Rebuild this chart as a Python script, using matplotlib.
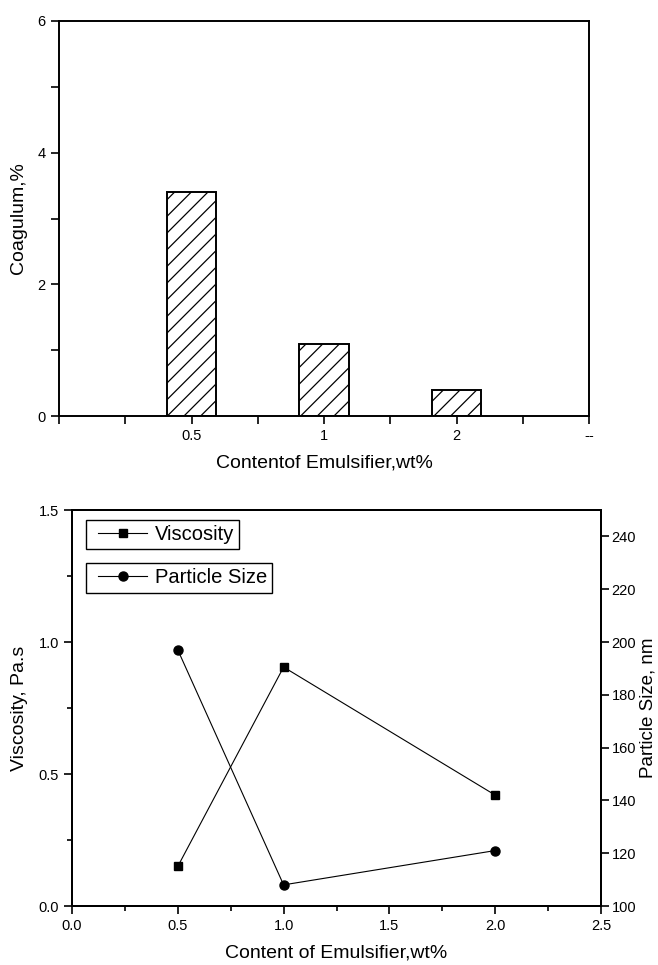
import matplotlib
matplotlib.use('Agg')
import matplotlib.pyplot as plt
from matplotlib.legend_handler import HandlerLine2D
from matplotlib.ticker import MultipleLocator, FixedLocator, FormatStrFormatter

plt.rcParams['font.family'] = ['Liberation Sans', 'DejaVu Sans']
plt.rcParams['hatch.linewidth'] = 0.9

# data
categories = ['0.5', '1', '2']
coagulum = [3.4, 1.1, 0.4]

content = [0.5, 1.0, 2.0]
viscosity = [0.15, 0.905, 0.42]
particle_size = [197, 108, 121]

fig = plt.figure(figsize=(6.58, 9.65), dpi=100)

# top: coagulum bars
ax1 = fig.add_axes([59/658, 1-416/965, 530/658, 395/965])
pos = [1, 2, 3]
ax1.bar(pos, coagulum, width=0.37, color='white', edgecolor='black',
        linewidth=1.4, hatch='//')
ax1.set_xlim(0, 4)
ax1.set_ylim(0, 6)
ax1.xaxis.set_major_locator(FixedLocator([1, 2, 3, 4]))
ax1.set_xticklabels(categories + ['--'])
ax1.xaxis.set_minor_locator(FixedLocator([0, 0.5, 1.5, 2.5, 3.5]))
ax1.yaxis.set_major_locator(MultipleLocator(2))
ax1.yaxis.set_minor_locator(MultipleLocator(1))
ax1.tick_params(which='both', direction='out', labelsize=10.5, width=1.2,
                length=5.5, pad=4)
ax1.set_ylabel('Coagulum,%', fontsize=14)
ax1.set_xlabel('Contentof Emulsifier,wt%', fontsize=14)
ax1.yaxis.set_label_coords(-0.060, 0.5)
ax1.xaxis.set_label_coords(0.5, -0.098)
for s in ax1.spines.values():
    s.set_linewidth(1.4)

# bottom: viscosity & particle size
ax2 = fig.add_axes([72/658, 1-906/965, 529/658, 396/965])
l1, = ax2.plot(content, viscosity, color='black', lw=0.8, marker='s',
               markersize=6, label='Viscosity')
ax2.set_xlim(0, 2.5)
ax2.set_ylim(0, 1.5)
ax2.xaxis.set_major_locator(MultipleLocator(0.5))
ax2.xaxis.set_minor_locator(MultipleLocator(0.25))
ax2.yaxis.set_major_locator(MultipleLocator(0.5))
ax2.yaxis.set_minor_locator(MultipleLocator(0.25))
ax2.xaxis.set_major_formatter(FormatStrFormatter('%.1f'))
ax2.yaxis.set_major_formatter(FormatStrFormatter('%.1f'))
ax2.tick_params(which='both', direction='out', labelsize=10.5, width=1.2, pad=4)
ax2.tick_params(which='major', length=5.5)
ax2.tick_params(which='minor', length=3.5)
ax2.set_ylabel('Viscosity, Pa.s', fontsize=14)
ax2.set_xlabel('Content of Emulsifier,wt%', fontsize=14)
ax2.yaxis.set_label_coords(-0.083, 0.5)
ax2.xaxis.set_label_coords(0.5, -0.098)

ax3 = ax2.twinx()
l2, = ax3.plot(content, particle_size, color='black', lw=0.8, marker='o',
               markersize=6.5, label='Particle Size')
ax3.set_ylim(100, 250)
ax3.yaxis.set_major_locator(MultipleLocator(20))
ax3.tick_params(direction='out', labelsize=10.5, width=1.2, length=5.5, pad=2)
ax3.set_ylabel('Particle Size, nm', fontsize=13.5)
ax3.yaxis.set_label_coords(1.073, 0.5)
for a in (ax2, ax3):
    for s in a.spines.values():
        s.set_linewidth(1.4)

hmap = {l1: HandlerLine2D(xpad=0.35), l2: HandlerLine2D(xpad=0.35)}
leg1 = ax2.legend(handles=[l1], loc='upper left', bbox_to_anchor=(0.027, 0.975),
                  fancybox=False, edgecolor='black', fontsize=14.5,
                  handlelength=2.75, handletextpad=0.4, borderpad=0.25,
                  borderaxespad=0, framealpha=1, handler_map=hmap)
leg1.get_frame().set_linewidth(1)
ax2.add_artist(leg1)
leg2 = ax2.legend(handles=[l2], loc='upper left', bbox_to_anchor=(0.027, 0.865),
                  fancybox=False, edgecolor='black', fontsize=14.5,
                  handlelength=2.75, handletextpad=0.4, borderpad=0.25,
                  borderaxespad=0, framealpha=1, handler_map=hmap)
leg2.get_frame().set_linewidth(1)

fig.savefig('out.png', dpi=100)
